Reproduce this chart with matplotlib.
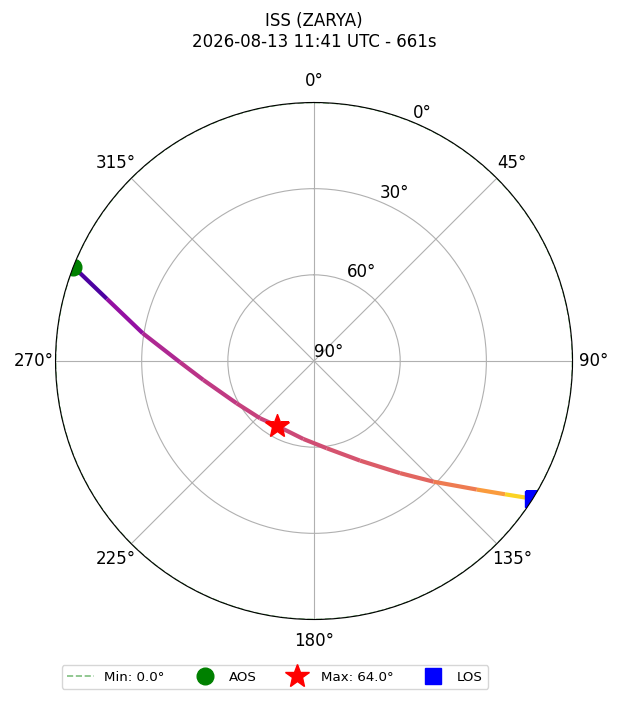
import numpy as np
import matplotlib
matplotlib.use("Agg")
import matplotlib.pyplot as plt
from matplotlib.collections import LineCollection

# pass geometry (azimuth deg, elevation deg, seconds since AOS)
az_deg = [291.4, 286.7, 279.2, 269.5, 260.3, 241.3, 223.3, 209.6, 187.8, 171.7, 155.2, 142.5, 135.3, 128.3, 124.9, 122.2]
el_deg = [0.0, 14.7, 29.6, 43.3, 50.9, 59.3, 62.6, 64.0, 62.6, 59.3, 51.8, 40.8, 30.9, 17.8, 8.9, 0.0]
t_sec = [0, 167, 241, 277, 293, 311, 320, 330, 340, 349, 364, 390, 415, 474, 543, 661]

sat_name = "ISS (ZARYA)"
pass_start = "2026-08-13 11:41 UTC"
duration_s = 661
min_el = 0.0
max_idx = 7
r_ticks = [0, 30, 60, 90]
r_ticklabels = ["90°", "60°", "30°", "0°"]

theta = np.radians(az_deg)
r = 90 - np.array(el_deg)
t = np.array(t_sec)

fig = plt.figure(figsize=(6.2, 7.02), dpi=100)
ax = fig.add_axes([0.0895, 0.1175, 0.834, 0.7365], projection="polar")
ax.set_theta_zero_location("N")
ax.set_theta_direction(-1)
ax.set_rlim(0, 90)
ax.set_rticks(r_ticks)
ax.set_yticklabels(r_ticklabels, fontsize=12)
ax.tick_params(axis="x", labelsize=12, pad=5)

# min elevation ring
ring = np.linspace(0, 2 * np.pi, 361)
ax.plot(ring, np.full_like(ring, 90 - min_el), "g--", alpha=0.5, lw=1.2, label=f"Min: {min_el:.1f}°")

# time-coloured track
pts = np.column_stack([theta, r]).reshape(-1, 1, 2)
segs = np.concatenate([pts[:-1], pts[1:]], axis=1)
mid = (t[:-1] + t[1:]) / 2 / duration_s
lc = LineCollection(segs, colors=plt.cm.plasma(mid), linewidths=3.0, transform=ax.transData)
ax.add_collection(lc)

ax.plot(theta[0], r[0], "o", color="green", ms=12, ls="none", label="AOS")
ax.plot(theta[max_idx], r[max_idx], "*", color="red", ms=18, ls="none", label=f"Max: {el_deg[max_idx]:.1f}°")
ax.plot(theta[-1], r[-1], "s", color="blue", ms=12, ls="none", label="LOS")

ax.set_title(f"{sat_name}\n{pass_start} - {duration_s}s", fontsize=12, pad=18)
h, l = ax.get_legend_handles_labels()
fig.legend(h, l, loc="center", bbox_to_anchor=(0.4435, 0.0356), ncol=4, fontsize=9.6)

fig.savefig("out.png", dpi=100)
